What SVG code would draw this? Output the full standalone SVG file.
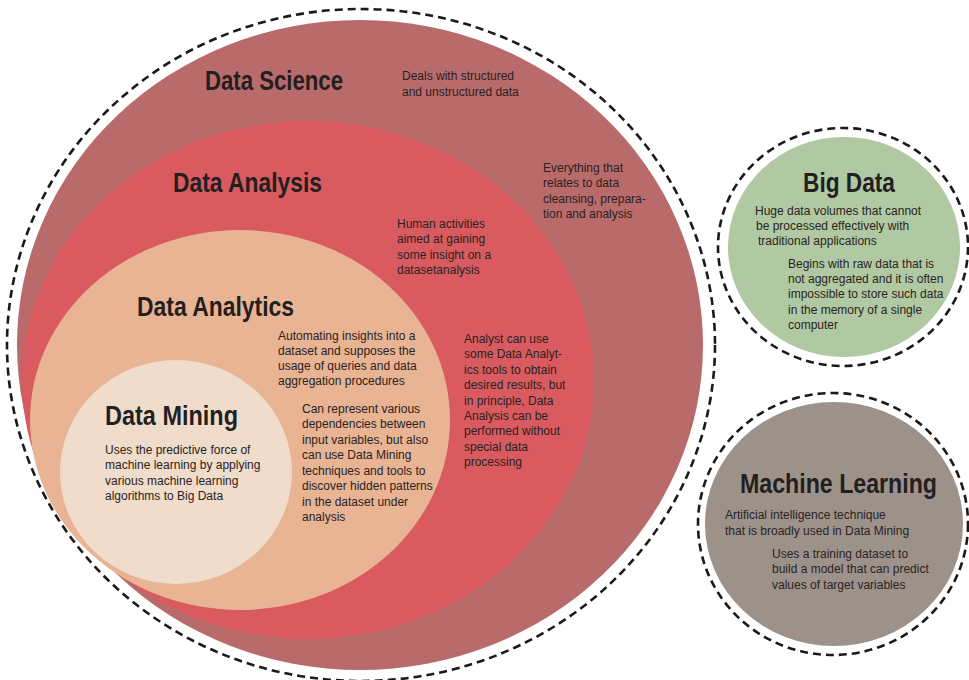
<svg xmlns="http://www.w3.org/2000/svg" width="969" height="680" viewBox="0 0 969 680">
<style>
.dash{fill:none;stroke:#1a1a1a;stroke-width:2.6;stroke-dasharray:8 5}
.title{font-family:"Liberation Sans Narrow","Liberation Sans",Arial,sans-serif;font-weight:bold;font-size:27px;fill:#231f20}
.body{font-family:"Liberation Sans",Arial,sans-serif;font-size:12px;fill:#2a2222}
</style>
<rect width="969" height="680" fill="#ffffff"/>
<g id="data-science">
<ellipse class="dash" cx="361" cy="345" rx="354" ry="336"/>
<ellipse cx="360" cy="345" rx="343" ry="325" fill="#b96a6a"/>
<text class="title" x="205" y="90" textLength="138" lengthAdjust="spacingAndGlyphs">Data Science</text>
<text class="body" x="402" y="80">Deals with structured</text>
<text class="body" x="402" y="96">and unstructured data</text>
<text class="body" x="543" y="172">Everything that</text>
<text class="body" x="543" y="187">relates to data</text>
<text class="body" x="543" y="203">cleansing, prepara-</text>
<text class="body" x="543" y="218">tion and analysis</text>
</g>
<g id="data-analysis">
<ellipse cx="308" cy="380" rx="286" ry="259" fill="#d95b5f"/>
<text class="title" x="173" y="192" textLength="149" lengthAdjust="spacingAndGlyphs">Data Analysis</text>
<text class="body" x="397" y="228">Human activities</text>
<text class="body" x="397" y="243">aimed at gaining</text>
<text class="body" x="397" y="259">some insight on a</text>
<text class="body" x="397" y="274">datasetanalysis</text>
<text class="body" x="464" y="343">Analyst can use</text>
<text class="body" x="464" y="358">some Data Analyt-</text>
<text class="body" x="464" y="374">ics tools to obtain</text>
<text class="body" x="464" y="389">desired results, but</text>
<text class="body" x="464" y="405">in principle, Data</text>
<text class="body" x="464" y="420">Analysis can be</text>
<text class="body" x="464" y="435">performed without</text>
<text class="body" x="464" y="451">special data</text>
<text class="body" x="464" y="466">processing</text>
</g>
<g id="data-analytics">
<ellipse cx="240" cy="420" rx="210" ry="190" fill="#e8b494"/>
<text class="title" x="137" y="316" textLength="157" lengthAdjust="spacingAndGlyphs">Data Analytics</text>
<text class="body" x="278" y="340">Automating insights into a</text>
<text class="body" x="278" y="355">dataset and supposes the</text>
<text class="body" x="278" y="370">usage of queries and data</text>
<text class="body" x="278" y="385">aggregation procedures</text>
<text class="body" x="302" y="413">Can represent various</text>
<text class="body" x="302" y="428">dependencies between</text>
<text class="body" x="302" y="444">input variables, but also</text>
<text class="body" x="302" y="459">can use Data Mining</text>
<text class="body" x="302" y="475">techniques and tools to</text>
<text class="body" x="302" y="490">discover hidden patterns</text>
<text class="body" x="302" y="506">in the dataset under</text>
<text class="body" x="302" y="521">analysis</text>
</g>
<g id="data-mining">
<ellipse cx="176" cy="472" rx="116" ry="112" fill="#f0dccb"/>
<text class="title" x="105" y="425" textLength="133" lengthAdjust="spacingAndGlyphs">Data Mining</text>
<text class="body" x="105" y="454">Uses the predictive force of</text>
<text class="body" x="105" y="469">machine learning by applying</text>
<text class="body" x="105" y="485">various machine learning</text>
<text class="body" x="105" y="500">algorithms to Big Data</text>
</g>
<g id="big-data">
<ellipse class="dash" cx="843" cy="247" rx="125" ry="119"/>
<ellipse cx="844" cy="247" rx="116" ry="110" fill="#b1c9a3"/>
<text class="title" x="803" y="192" textLength="92" lengthAdjust="spacingAndGlyphs">Big Data</text>
<text class="body" x="755" y="215">Huge data volumes that cannot</text>
<text class="body" x="756" y="230">be processed effectively with</text>
<text class="body" x="758" y="245">traditional applications</text>
<text class="body" x="788" y="268">Begins with raw data that is</text>
<text class="body" x="788" y="283">not aggregated and it is often</text>
<text class="body" x="788" y="298">impossible to store such data</text>
<text class="body" x="788" y="314">in the memory of a single</text>
<text class="body" x="788" y="329">computer</text>
</g>
<g id="machine-learning">
<ellipse class="dash" cx="833" cy="524" rx="135" ry="131"/>
<ellipse cx="834" cy="524" rx="129" ry="122" fill="#9c928a"/>
<text class="title" x="740" y="493" textLength="197" lengthAdjust="spacingAndGlyphs">Machine Learning</text>
<text class="body" x="725" y="519">Artificial intelligence technique</text>
<text class="body" x="725" y="535">that is broadly used in Data Mining</text>
<text class="body" x="772" y="558">Uses a training dataset to</text>
<text class="body" x="772" y="573">build a model that can predict</text>
<text class="body" x="772" y="589">values of target variables</text>
</g>
</svg>
